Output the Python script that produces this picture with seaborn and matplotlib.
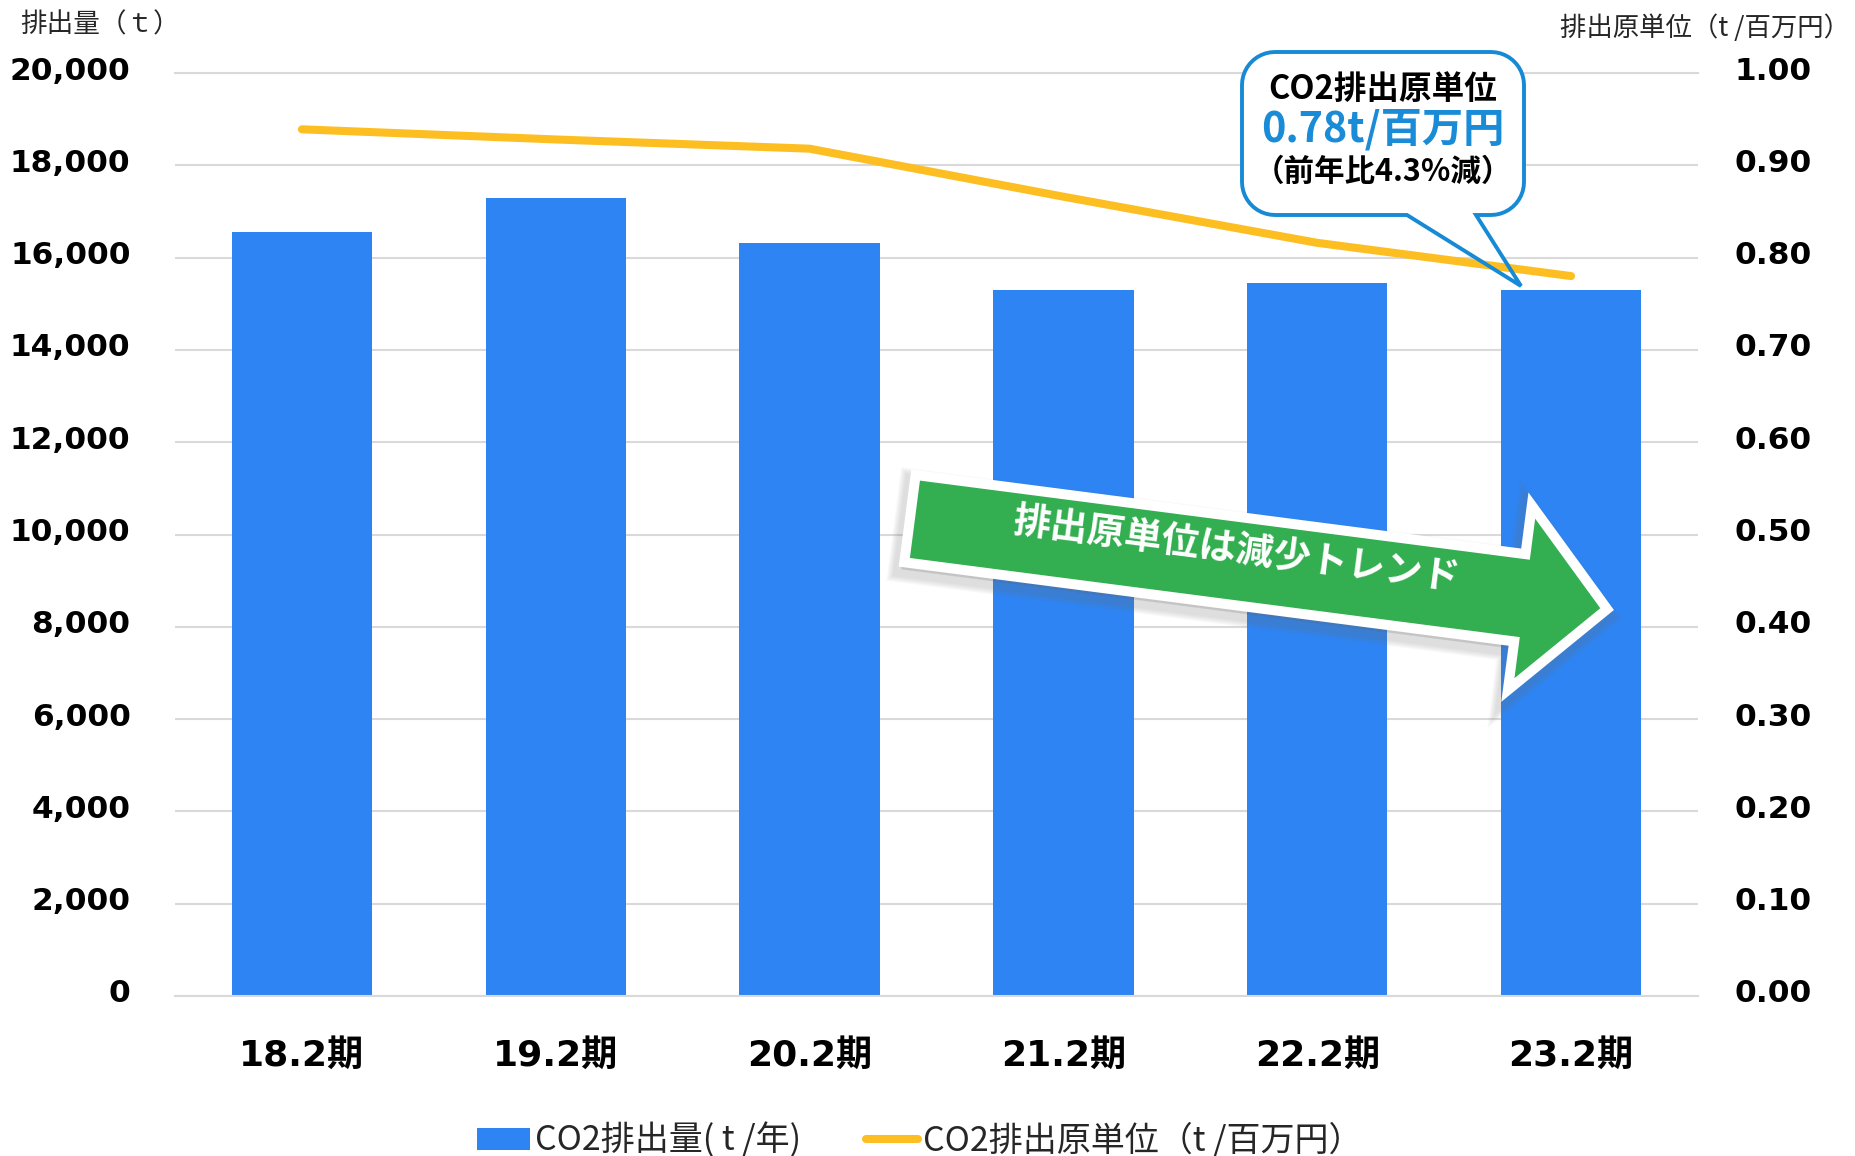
import numpy as np
import pandas as pd
import matplotlib
matplotlib.use("Agg")
import matplotlib.pyplot as plt
from matplotlib.patches import Polygon, PathPatch, Patch
from matplotlib.lines import Line2D
from matplotlib.path import Path
from matplotlib.transforms import ScaledTranslation
import seaborn as sns

# ---- data -------------------------------------------------------------
periods = ["18.2期", "19.2期", "20.2期", "21.2期", "22.2期", "23.2期"]
emissions_t = [16550, 17290, 16320, 15300, 15440, 15300]          # CO2排出量 (t/年)
intensity = [0.939, 0.928, 0.918, 0.866, 0.816, 0.78]             # t/百万円

left_ticks = [0, 2000, 4000, 6000, 8000, 10000, 12000, 14000, 16000, 18000, 20000]
left_tick_labels = ["0", "2,000", "4,000", "6,000", "8,000", "10,000",
                    "12,000", "14,000", "16,000", "18,000", "20,000"]
right_ticks = [0.0, 0.1, 0.2, 0.3, 0.4, 0.5, 0.6, 0.7, 0.8, 0.9, 1.0]
right_tick_labels = ["0.00", "0.10", "0.20", "0.30", "0.40", "0.50",
                     "0.60", "0.70", "0.80", "0.90", "1.00"]

left_title = "排出量（ｔ）"
right_title = "排出原単位（t /百万円）"
legend_labels = ["CO2排出量( t /年)", "CO2排出原単位（t /百万円）"]
callout_lines = ["CO2排出原単位", "0.78t/百万円", "（前年比4.3%減）"]
trend_text = "排出原単位は減少トレンド"

# ---- style ------------------------------------------------------------
BAR = "#2E84F2"
LINE = "#FDBE22"
GRID = "#D9D9D9"
GREEN = "#33AE50"
CALLOUT = "#168AD4"
JP = "Noto Sans CJK JP"

sns.set_theme(style="white")
plt.rcParams["font.family"] = ["DejaVu Sans", JP]

W, H = 1856, 1156
fig = plt.figure(figsize=(W / 100, H / 100), dpi=100)


def fpt(x, y):
    """pixel position (origin top-left) -> figure fraction"""
    return (x / W, 1 - y / H)


ax = fig.add_axes([175 / W, 1 - 996 / H, (1698 - 175) / W, (996 - 73) / H])
df = pd.DataFrame({"period": periods, "emissions": emissions_t, "intensity": intensity})

sns.barplot(data=df, x="period", y="emissions", color=BAR, saturation=1,
            width=0.553, errorbar=None, linewidth=0, ax=ax, zorder=2)
ax.set_xlim(-0.5, 5.5)
ax.set_ylim(0, 20000)
ax.set_axisbelow(True)
ax.yaxis.grid(True, color=GRID, linewidth=1.5)
ax.xaxis.grid(False)
for side in ["left", "right"]:
    ax.spines[side].set_visible(False)
for side in ["top", "bottom"]:
    ax.spines[side].set_color(GRID)
    ax.spines[side].set_linewidth(1.5)
ax.set_yticks(left_ticks, labels=left_tick_labels, fontweight="bold", fontsize=22.5)
ax.tick_params(axis="y", length=0, pad=32, colors="black")
ax.tick_params(axis="x", length=0, pad=31, colors="black")
for lbl in ax.get_xticklabels():
    lbl.set_fontweight("bold")
    lbl.set_fontsize(26)
ax.set_xlabel("")
ax.set_ylabel("")

ax2 = ax.twinx()
sns.lineplot(data=df, x="period", y="intensity", color=LINE, linewidth=5.8,
             sort=False, ax=ax2, solid_capstyle="round", zorder=3)
ax2.set_ylim(0, 1)
ax2.set_xlim(-0.5, 5.5)
for side in ax2.spines:
    ax2.spines[side].set_visible(False)
ax2.set_yticks(right_ticks, labels=right_tick_labels, fontweight="bold", fontsize=22.5)
ax2.tick_params(axis="y", length=0, pad=26.5, colors="black")
ax2.set_ylabel("")
ax2.set_xlabel("")
ax2.grid(False)

# lift the value labels slightly above their gridlines
lift = ScaledTranslation(0, 3.6 / 72, fig.dpi_scale_trans)
for lbl in ax.get_yticklabels() + ax2.get_yticklabels():
    lbl.set_transform(lbl.get_transform() + lift)

# axis titles
fig.text(*fpt(20, 25), left_title, family=JP, fontsize=19.2, ha="left", va="center")
fig.text(*fpt(1560, 28), right_title, family=JP, fontsize=19, ha="left", va="center")

# ---- callout bubble ---------------------------------------------------
Lb, Rb, Tb, Bb, r = 1242, 1524, 52, 215, 33
tail_l, tail_r, tip = 1407, 1476, (1521, 286)


def arc(cx, cy, a0, a1, n=12):
    t = np.radians(np.linspace(a0, a1, n))
    return [(cx + r * np.cos(t_), cy + r * np.sin(t_)) for t_ in t]


pts = [(Lb + r, Tb), (Rb - r, Tb)]
pts += arc(Rb - r, Tb + r, -90, 0)
pts += [(Rb, Bb - r)]
pts += arc(Rb - r, Bb - r, 0, 90)
pts += [(tail_r, Bb), tip, (tail_l, Bb), (Lb + r, Bb)]
pts += arc(Lb + r, Bb - r, 90, 180)
pts += [(Lb, Tb + r)]
pts += arc(Lb + r, Tb + r, 180, 270)
verts = [fpt(x, y) for x, y in pts]
verts.append(verts[0])
codes = [Path.MOVETO] + [Path.LINETO] * (len(verts) - 2) + [Path.CLOSEPOLY]
bubble = Path(verts, codes)
ax2.add_patch(PathPatch(bubble, transform=fig.transFigure, facecolor="white",
                        edgecolor="none", zorder=1, clip_on=False))
ax2.add_patch(PathPatch(bubble, transform=fig.transFigure, facecolor="none",
                        edgecolor=CALLOUT, linewidth=2.8, joinstyle="miter",
                        zorder=5, clip_on=False))
fig.text(*fpt(1383, 90), callout_lines[0], family=JP, fontweight="bold",
         fontsize=23.5, ha="center", va="center", color="black")
fig.text(*fpt(1383, 130), callout_lines[1], family=JP, fontweight="bold",
         fontsize=29.7, ha="center", va="center", color="#1A8BD6")
fig.text(*fpt(1383, 172), callout_lines[2], family=JP, fontweight="bold",
         fontsize=22, ha="center", va="center", color="black")

# ---- trend arrow ------------------------------------------------------
O = np.array([905.0, 518.0])
ang = np.arctan2(92, 709)
u = np.array([np.cos(ang), np.sin(ang)])
v = np.array([-np.sin(ang), np.cos(ang)])
local = [(5, -44), (620, -44), (620, -93), (708, 0), (620, 93), (620, 44), (5, 44)]


def arrow_pts(dx=0.0, dy=0.0):
    return [fpt(*(O + u * a + v * b + np.array([dx, dy]))) for a, b in local]


for i in range(6):
    fig.add_artist(Polygon(arrow_pts(-3, 7), closed=True, transform=fig.transFigure,
                           facecolor="#707070", edgecolor="#707070",
                           linewidth=(10 + 2.2 * i) * 0.72 + 4, alpha=0.04,
                           joinstyle="miter", zorder=10))
fig.add_artist(Polygon(arrow_pts(), closed=True, transform=fig.transFigure,
                       facecolor=GREEN, edgecolor="white", linewidth=7.2,
                       joinstyle="miter", zorder=11))
tc = O + u * 333 + v * (-12)
fig.text(*fpt(*tc), trend_text, family=JP, fontweight="bold", fontsize=27,
         color="white", ha="center", va="center", rotation=-np.degrees(ang),
         rotation_mode="anchor", zorder=12)

# ---- legend -----------------------------------------------------------
handles = [Patch(facecolor=BAR, edgecolor="none"),
           Line2D([0], [0], color=LINE, linewidth=5.8, solid_capstyle="round")]
fig.legend(handles, legend_labels, loc="center", bbox_to_anchor=fpt(920, 1141),
           ncol=2, frameon=False, prop={"family": JP, "size": 24.5},
           handlelength=1.55, handleheight=0.6, handletextpad=0.15,
           columnspacing=1.9, borderpad=0, borderaxespad=0)

fig.savefig("out.png", dpi=100)
